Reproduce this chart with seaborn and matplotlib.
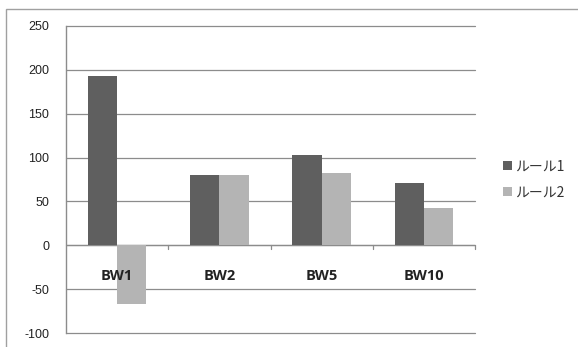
import matplotlib
matplotlib.use("Agg")
import matplotlib.pyplot as plt
from matplotlib.patches import Rectangle
from matplotlib.transforms import blended_transform_factory
import seaborn as sns
import pandas as pd

# Data
categories = ["BW1", "BW2", "BW5", "BW10"]
series_names = ["ルール1", "ルール2"]
rule1 = [193, 80, 103, 71]
rule2 = [-67, 80, 82, 43]
y_ticks = [-100, -50, 0, 50, 100, 150, 200, 250]

df = pd.DataFrame({
    "cat": categories * 2,
    "series": [series_names[0]] * len(categories) + [series_names[1]] * len(categories),
    "value": rule1 + rule2,
})

sns.set_theme(style="white")
plt.rcParams["font.family"] = ["Noto Sans CJK JP", "DejaVu Sans"]
plt.rcParams["axes.unicode_minus"] = False

fig = plt.figure(figsize=(5.78, 3.47), dpi=100)
ax = fig.add_axes([66 / 578, 1 - 333 / 347, (475 - 66) / 578, (333 - 26) / 347])

palette = {series_names[0]: "#5f5f5f", series_names[1]: "#b4b4b4"}
sns.barplot(data=df, x="cat", y="value", hue="series", palette=palette,
            width=0.57, gap=0, saturation=1, ax=ax, legend=True, zorder=3,
            linewidth=0, edgecolor="none")

ax.set_ylim(y_ticks[0], y_ticks[-1])
ax.set_xlim(-0.5, len(categories) - 0.5)
ax.set_yticks(y_ticks)
ax.yaxis.grid(True, color="#8c8c8c", linewidth=0.9)
for gl in ax.get_ygridlines():
    gl.set_clip_on(False)
ax.set_axisbelow(True)
ax.set_xlabel("")
ax.set_ylabel("")

for s in ["top", "right", "bottom"]:
    ax.spines[s].set_visible(False)
ax.spines["left"].set_color("#8c8c8c")
ax.spines["left"].set_linewidth(1.0)

ax.tick_params(axis="y", length=0, pad=12, labelsize=9, labelcolor="#222222")
for lab in ax.get_yticklabels():
    lab.set_fontfamily(["Liberation Sans", "DejaVu Sans"])

# Category axis sits on the zero line, with ticks between categories
ax.set_xticks([])
ax.axhline(0, color="#8c8c8c", linewidth=0.9, zorder=2)
trans = blended_transform_factory(ax.transData, ax.transAxes)
zero_frac = (0 - y_ticks[0]) / (y_ticks[-1] - y_ticks[0])
for b in range(1, len(categories) + 1):
    ax.plot([b - 0.5, b - 0.5], [zero_frac, zero_frac - 0.013], transform=trans,
            color="#8c8c8c", linewidth=0.9, clip_on=False)
for i, c in enumerate(categories):
    ax.text(i, -35, c, ha="center", va="center", fontsize=10.5, fontweight="bold",
            family=["Open Sans", "DejaVu Sans"], color="#222222", zorder=5)

leg = ax.legend(loc="center left", bbox_to_anchor=(1.055, 0.5), frameon=False,
                fontsize=10, handlelength=0.65, handleheight=0.65, handletextpad=0.2,
                labelspacing=0.85, borderaxespad=0)
for t in leg.get_texts():
    t.set_color("#333333")

# Outer chart frame
fig.patches.append(Rectangle((6 / 578, -0.05), 1.1, 1 - 9 / 347 + 0.05,
                             transform=fig.transFigure, fill=False,
                             edgecolor="#a0a0a0", linewidth=1.0))

fig.savefig("out.png", dpi=100)
